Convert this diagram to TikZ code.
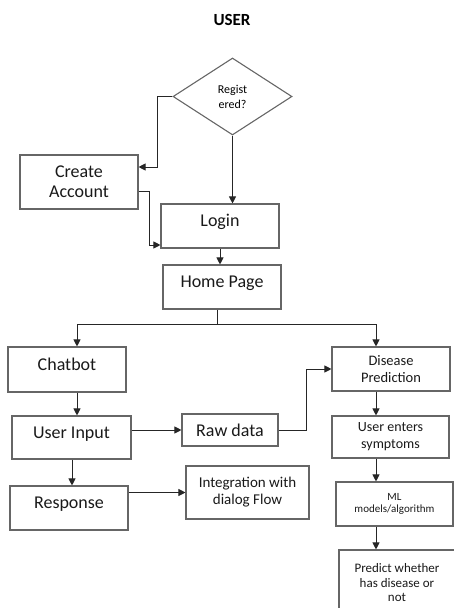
\documentclass[tikz,border=0pt]{standalone}
\usepackage{fontspec}
\setmainfont{Carlito}
\usetikzlibrary{shapes.geometric,arrows.meta}

\begin{document}
\begin{tikzpicture}[x=1pt, y=-1pt,
        box/.style={draw=black!60, line width=1.1pt, align=center, inner sep=2pt, text=black!90},
        upper/.style={text height=12pt, text depth=11pt},
        big/.style={font=\fontsize{18}{20}\selectfont},
        flow/.style={draw=black!85, line width=0.9pt, -{Triangle[width=7pt,length=7pt]}}]
        \useasboundingbox (0,0) rectangle (454,608);
        \clip (0,0) rectangle (454,608);

        % Title
        \node[font=\fontsize{17}{20}\selectfont\bfseries] (title) at (232,20) {USER};

        % Decision
        \node[draw=black!60, line width=1.1pt, diamond, inner sep=0pt, minimum width=119pt, minimum height=77pt,
              align=center, font=\fontsize{12}{15}\selectfont] (reg) at (232.5,96.5) {Regist\\ered?};

        % Left column
        \node[box, big, minimum width=118pt, minimum height=54pt] (create) at (79,182) {Create\\Account};
        \node[box, big, upper, minimum width=118pt, minimum height=44pt] (login) at (220,226) {Login};
        \node[box, big, upper, minimum width=118pt, minimum height=44pt] (home) at (222,287) {Home Page};
        \node[box, big, upper, minimum width=118pt, minimum height=45pt] (chat) at (67,369.5) {Chatbot};
        \node[box, big, upper, minimum width=119pt, minimum height=43pt] (input) at (71.5,437.5) {User Input};
        \node[box, big, upper, minimum width=118pt, minimum height=44pt] (response) at (69,508) {Response};

        % Middle
        \node[box, big, minimum width=96pt, minimum height=32pt] (raw) at (230,430) {Raw data};
        \node[box, font=\fontsize{15}{17}\selectfont, minimum width=123pt, minimum height=53pt] (integ) at (247.5,492.5) {Integration with\\dialog Flow};

        % Right column
        \node[box, font=\fontsize{14.5}{17}\selectfont, minimum width=118pt, minimum height=44pt] (disease) at (391,369) {Disease\\Prediction};
        \node[box, font=\fontsize{14}{17}\selectfont, minimum width=117pt, minimum height=42pt] (symptoms) at (390.5,437) {User enters\\symptoms};
        \node[box, font=\fontsize{11}{12}\selectfont, minimum width=117pt, minimum height=44pt] (ml) at (394.5,504) {ML\\models/algorithm};
        \node[box, font=\fontsize{13}{14.5}\selectfont, minimum width=116pt, minimum height=66pt] (predict) at (397,583) {Predict whether\\has disease or\\not};

        % Lanes
        \coordinate (split) at (217,324);
        \coordinate (lanel) at (77,0);
        \coordinate (lanei) at (72,0);
        \coordinate (laner) at (376,0);

        % Connectors
        \draw[flow] (reg.west) -| ([xshift=19pt,yshift=15pt]create.east) -- ([yshift=15pt]create.east);
        \draw[flow] (reg.south) -- (reg.south |- login.north);
        \draw[flow] ([yshift=-9pt]create.east) -| ([xshift=-11pt,yshift=-19pt]login.west) -- ([yshift=-19pt]login.west);
        \draw[flow] (login.south) -- (login.south |- home.north);
        \draw[draw=black!85, line width=0.9pt] (home.south -| split) -- (split);
        \draw[flow] (split) -| (chat.north -| lanel);
        \draw[flow] (split) -| (disease.north -| laner);
        \draw[flow] (chat.south -| lanel) -- (input.north -| lanel);
        \draw[flow] (input.south -| lanei) -- (response.north -| lanei);
        \draw[flow] (raw.west -| input.east) -- (raw.west);
        \draw[flow] (raw.east) -- ++(28,0) |- (disease.west);
        \draw[flow] (integ.west -| response.east) -- (integ.west);
        \draw[flow] (disease.south -| laner) -- (symptoms.north -| laner);
        \draw[flow] (symptoms.south -| laner) -- (ml.north -| laner);
        \draw[flow] (ml.south -| laner) -- (predict.north -| laner);
    \end{tikzpicture}
\end{document}
